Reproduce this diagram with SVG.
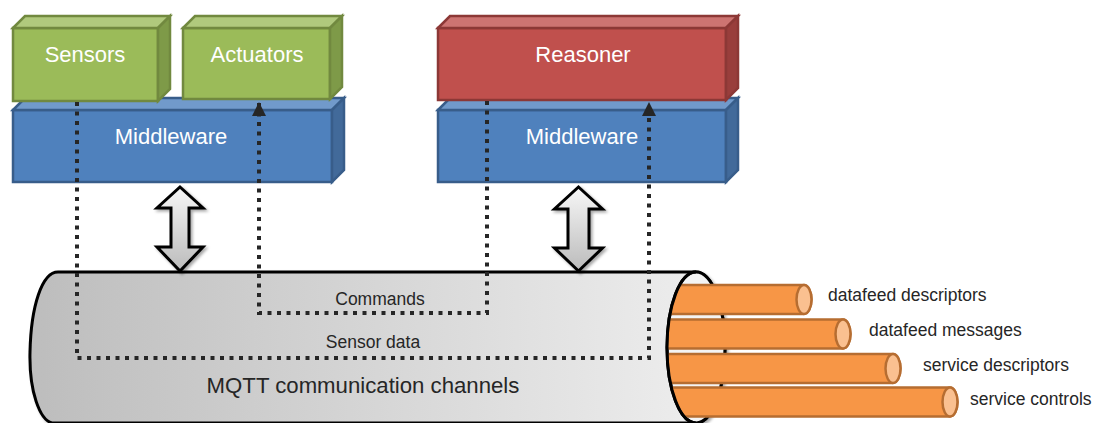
<svg xmlns="http://www.w3.org/2000/svg" width="1094" height="423" viewBox="0 0 1094 423">
<defs>
<style>
.box{stroke-width:2.5;stroke-linejoin:miter}
.g .f{fill:#9BBB59}.g .t{fill:#B0C97D}.g .s{fill:#7E9A48}.g *{stroke:#71893F}
.b .f{fill:#4F81BD}.b .t{fill:#719ACB}.b .s{fill:#426A9A}.b *{stroke:#385D8A}
.r .f{fill:#C0504D}.r .t{fill:#CD7472}.r .s{fill:#993E3C}.r *{stroke:#8C3836}
.lbl{font-family:"Liberation Sans",Arial,sans-serif;font-size:22px;fill:#FFFFFF;text-anchor:middle;stroke:none}
.small{font-family:"Liberation Sans",Arial,sans-serif;font-size:17.5px;fill:#262626}
.big{font-family:"Liberation Sans",Arial,sans-serif;font-size:22.2px;fill:#262626;text-anchor:middle}
.dot{fill:none;stroke:#262626;stroke-width:4;stroke-dasharray:4 5.5}
.blk{fill:url(#agrad);stroke:#000;stroke-width:3;stroke-linejoin:miter;filter:url(#shadow)}
.cable{fill:#F79646;stroke:#B66D31;stroke-width:2.5}
.cap{fill:#FAC090;stroke:#B66D31;stroke-width:2.5}
</style>
<linearGradient id="cgrad" x1="0" y1="0" x2="1" y2="0">
<stop offset="0" stop-color="#BDBDBD"/>
<stop offset="1" stop-color="#EFEFEF"/>
</linearGradient>
<linearGradient id="agrad" x1="0" y1="0" x2="0" y2="1">
<stop offset="0" stop-color="#F7F7F7"/>
<stop offset="1" stop-color="#BBBBBB"/>
</linearGradient>
<filter id="shadow" x="-20%" y="-20%" width="140%" height="140%">
<feGaussianBlur in="SourceAlpha" stdDeviation="1.5"/>
<feOffset dx="2" dy="2" result="o"/>
<feComponentTransfer><feFuncA type="linear" slope="0.35"/></feComponentTransfer>
<feMerge><feMergeNode/><feMergeNode in="SourceGraphic"/></feMerge>
</filter>
<marker id="arr" markerUnits="userSpaceOnUse" markerWidth="14" markerHeight="14" refX="13" refY="7" orient="auto">
<path d="M0,0 L14,7 L0,14 Z" fill="#262626"/>
</marker>
<clipPath id="cableclip">
<ellipse cx="696" cy="347.5" rx="28" ry="74"/>
<rect x="696" y="250" width="400" height="180"/>
</clipPath>
</defs>

<rect width="1094" height="423" fill="#FFFFFF"/>

<g id="channel">
<path d="M58,272 H696 A29,75.5 0 0 1 696,423 H52 C40,420 29,392 30,352 C31,306 42,272 58,272 Z" fill="url(#cgrad)" stroke="#000" stroke-width="3" filter="url(#shadow)"/>
<ellipse cx="696" cy="347.5" rx="29" ry="75.5" fill="#F4F4F4" stroke="#000" stroke-width="3"/>
<text class="big" x="363" y="393">MQTT communication channels</text>
</g>

<g id="cables">
<g clip-path="url(#cableclip)">
<path class="cable" d="M650,285 H804 A7.5,14.5 0 0 1 804,314 H650 Z"/>
<path class="cable" d="M650,319.5 H843 A7.5,14.5 0 0 1 843,348.5 H650 Z"/>
<path class="cable" d="M650,354 H893 A7.5,14.5 0 0 1 893,383 H650 Z"/>
<path class="cable" d="M650,387.5 H950 A7.5,14.5 0 0 1 950,416.5 H650 Z"/>
</g>
<ellipse class="cap" cx="804" cy="299.5" rx="7.5" ry="14.5"/>
<ellipse class="cap" cx="843" cy="334" rx="7.5" ry="14.5"/>
<ellipse class="cap" cx="893" cy="368.5" rx="7.5" ry="14.5"/>
<ellipse class="cap" cx="950" cy="402" rx="7.5" ry="14.5"/>
<path d="M696,272 A29,75.5 0 0 0 696,423" fill="none" stroke="#000" stroke-width="3"/>
<text class="small" x="828" y="301">datafeed descriptors</text>
<text class="small" x="869" y="336">datafeed messages</text>
<text class="small" x="923" y="371">service descriptors</text>
<text class="small" x="970" y="405">service controls</text>
</g>

<g id="middleware-left" class="box b">
<rect class="f" x="13" y="110" width="319" height="72"/>
<path class="t" d="M13,110 L25,98 L344,98 L332,110 Z"/>
<path class="s" d="M332,110 L344,98 L344,170 L332,182 Z"/>
<text class="lbl" x="171" y="144">Middleware</text>
</g>

<g id="middleware-right" class="box b">
<rect class="f" x="438" y="110" width="288" height="72"/>
<path class="t" d="M438,110 L450,98 L738,98 L726,110 Z"/>
<path class="s" d="M726,110 L738,98 L738,170 L726,182 Z"/>
<text class="lbl" x="582" y="144">Middleware</text>
</g>

<g id="sensors" class="box g">
<rect class="f" x="13" y="28" width="145" height="73"/>
<path class="t" d="M13,28 L25,16 L170,16 L158,28 Z"/>
<path class="s" d="M158,28 L170,16 L170,89 L158,101 Z"/>
<text class="lbl" x="85" y="62">Sensors</text>
</g>

<g id="actuators" class="box g">
<rect class="f" x="183" y="28" width="147" height="71"/>
<path class="t" d="M183,28 L195,16 L342,16 L330,28 Z"/>
<path class="s" d="M330,28 L342,16 L342,87 L330,99 Z"/>
<text class="lbl" x="257" y="62">Actuators</text>
</g>

<g id="reasoner" class="box r">
<rect class="f" x="438" y="28" width="288" height="72"/>
<path class="t" d="M438,28 L450,16 L738,16 L726,28 Z"/>
<path class="s" d="M726,28 L738,16 L738,88 L726,100 Z"/>
<text class="lbl" x="583" y="62">Reasoner</text>
</g>

<g id="connectors">
<polygon class="blk" points="180,187 203,208 189,208 189,247 203,247 180,271 157,247 171,247 171,208 157,208"/>
<polygon class="blk" points="578.5,187 602.5,209 589,209 589,248 602.5,248 578.5,271 554.5,248 568,248 568,209 554.5,209"/>
<path class="dot" d="M77,102 V358 H649 V103" marker-end="url(#arr)"/>
<path class="dot" d="M487,101 V313 H259 V103" marker-end="url(#arr)"/>
<text class="small" x="380" y="305" text-anchor="middle">Commands</text>
<text class="small" x="373" y="348" text-anchor="middle">Sensor data</text>
</g>
</svg>
